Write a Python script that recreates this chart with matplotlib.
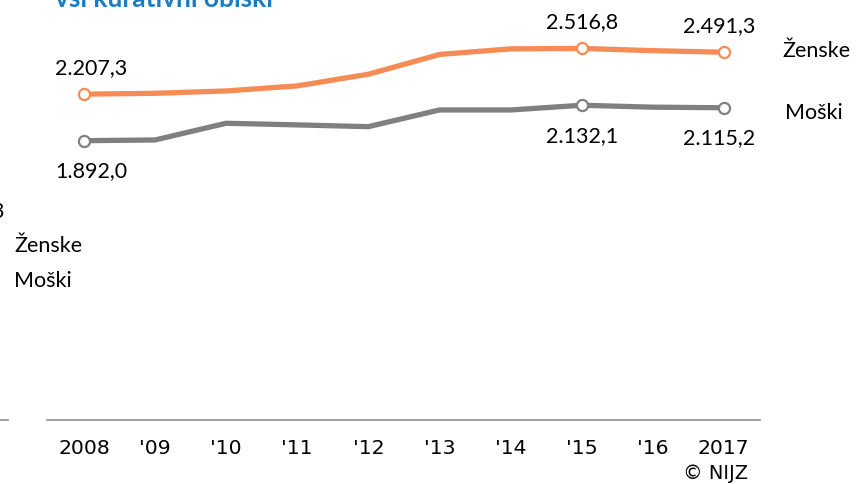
import matplotlib.pyplot as plt

# data
years = [2008, 2009, 2010, 2011, 2012, 2013, 2014, 2015, 2016, 2017]
year_labels = ['2008', "'09", "'10", "'11", "'12", "'13", "'14", "'15", "'16", '2017']
zenske = [2207.3, 2213, 2229, 2263, 2342, 2476, 2514, 2516.8, 2502, 2491.3]
moski = [1892.0, 1897, 2010, 1999, 1987, 2100, 2100, 2132.1, 2119, 2115.2]
marked = [0, 7, 9]  # points with circle markers and value labels


def fmt(v):
    # Slovenian number format: 2.207,3
    s = f'{v:,.1f}'
    return s.replace(',', 'X').replace('.', ',').replace('X', '.')


orange = '#F78B55'
grey = '#808080'

plt.rcParams['font.family'] = ['Lato', 'DejaVu Sans']

fig = plt.figure(figsize=(8.59, 4.84), dpi=100)
ax = fig.add_axes([47 / 859, 64 / 484, 713 / 859, 420 / 484])
ax.set_xlim(2007.48, 2017.51)
ax.set_ylim(0, 2845)

ax.plot(years, zenske, color=orange, lw=3.8, solid_capstyle='round', zorder=2)
ax.plot(years, moski, color=grey, lw=3.8, solid_capstyle='round', zorder=2)
mx = [years[i] for i in marked]
ax.plot(mx, [zenske[i] for i in marked], 'o', ms=8, mfc='white', mec=orange, mew=1.6, zorder=3)
ax.plot(mx, [moski[i] for i in marked], 'o', ms=8, mfc='white', mec=grey, mew=1.6, zorder=3)

# value labels
shift = {0: 7, 7: 0, 9: -5}
for i in marked:
    ax.annotate(fmt(zenske[i]), (years[i], zenske[i]), xytext=(shift[i] * 0.72, 19),
                textcoords='offset points', ha='center', va='center', fontsize=15.5)
    ax.annotate(fmt(moski[i]), (years[i], moski[i]), xytext=(shift[i] * 0.72, -22),
                textcoords='offset points', ha='center', va='center', fontsize=15.5)

for s in ['top', 'left', 'right']:
    ax.spines[s].set_visible(False)
ax.spines['bottom'].set_color('#999999')
ax.spines['bottom'].set_linewidth(1.3)
ax.set_yticks([])
ax.set_xticks(years)
ax.set_xticklabels(year_labels, family='DejaVu Sans', fontsize=14.7)
ax.tick_params(axis='x', length=0, pad=14)

# title (cut off at top)
fig.text(55 / 859, 1 - 7 / 484, 'vsi kurativni obiski', color='#1A7CC4',
         fontsize=19, fontweight='bold', ha='left', va='baseline')

# series names on the right
fig.text(782 / 859, 1 - 57 / 484, 'Ženske', fontsize=15.5, ha='left', va='baseline')
fig.text(785 / 859, 1 - 119 / 484, 'Moški', fontsize=15.5, ha='left', va='baseline')

# pieces of the neighbouring chart on the left
fig.text(14 / 859, 1 - 252 / 484, 'Ženske', fontsize=15.5, ha='left', va='baseline')
fig.text(14 / 859, 1 - 287 / 484, 'Moški', fontsize=15.5, ha='left', va='baseline')
fig.text(4 / 859, 1 - 218 / 484, '3', fontsize=15.5, ha='right', va='baseline')
fig.add_artist(plt.Line2D([0, 8 / 859], [64 / 484, 64 / 484], color='#999999', lw=1.3))

fig.text(748 / 859, 1 - 479 / 484, '© NIJZ', family='DejaVu Sans',
         fontsize=14, ha='right', va='baseline')

fig.savefig('out.png', dpi=100, facecolor='white')
